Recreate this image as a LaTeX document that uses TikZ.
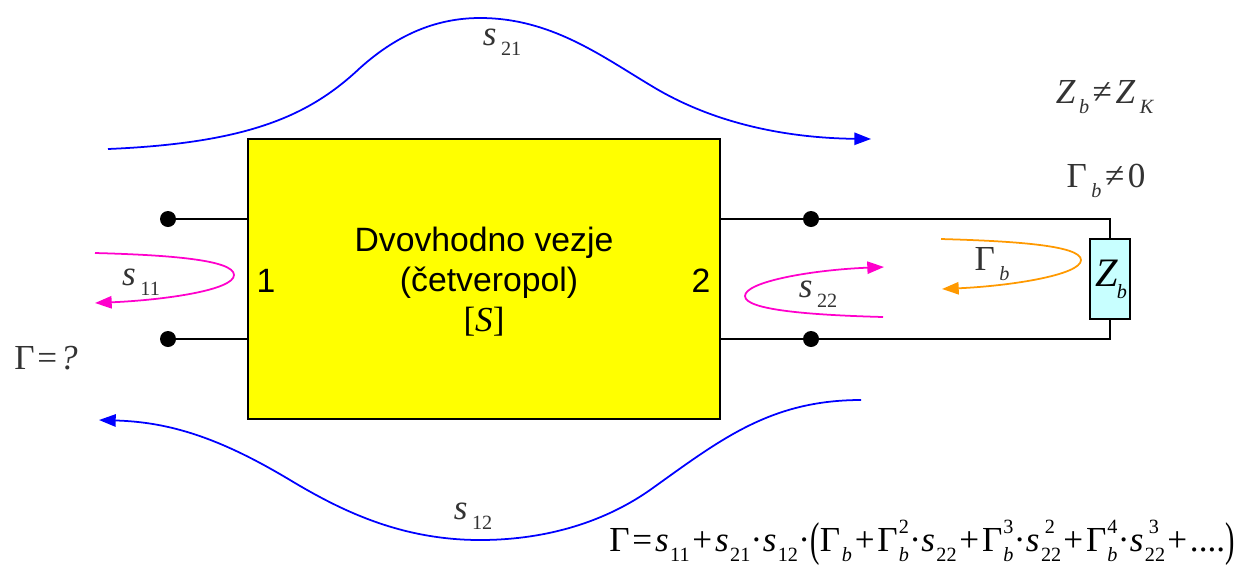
\documentclass[tikz,border=0pt]{standalone}
\usepackage{xcolor}
\usepackage{graphicx}
\usepackage{fontspec}
\setmainfont{Liberation Serif}
\newfontfamily\labelsans{Liberation Sans}
\usepackage{tikz}
\usetikzlibrary{
    arrows.meta,
    positioning,
    calc
}
\definecolor{flowblue}{RGB}{0,0,255}
\definecolor{flowpink}{RGB}{255,0,204}
\definecolor{floworange}{RGB}{255,153,0}
\definecolor{loadcyan}{RGB}{200,255,255}
\definecolor{blockyellow}{RGB}{255,255,0}
\newcommand{\lowidx}[1]{\raisebox{-0.3em}{\fontsize{11.5}{13}\selectfont #1}}
\newcommand{\topidx}[1]{\raisebox{0.5em}{\fontsize{11.5}{13}\selectfont #1}}
\newcommand{\symS}[1]{\textit{s}\kern2.6pt\lowidx{#1}}
\newcommand{\symG}{Γ\kern2.6pt\lowidx{\textit{b}}}
\newcommand{\symT}[1]{\textit{s}\kern0.8pt\lowidx{#1}}
\newcommand{\symH}{Γ\kern1pt\lowidx{\textit{b}}}
\newcommand{\symGp}[1]{Γ\kern0.6pt\rlap{\lowidx{\textit{b}}}\topidx{#1}}
\newcommand{\symSp}[1]{\textit{s}\kern0.8pt\rlap{\lowidx{22}}\kern2.2pt\topidx{#1}\kern3.2pt}
\newcommand{\opgap}[1]{\kern1.6pt#1\kern1.6pt}
\newcommand{\dotgap}{\kern0.2pt·\kern0.2pt}
\newcommand{\tallfence}[1]{\raisebox{-2.5pt}{\scalebox{0.8}[1.35]{#1}}}
\tikzset{
    twoport/.style={
        draw=black,
        line width=0.8pt,
        fill=blockyellow,
        minimum width=472*0.02cm,
        minimum height=280*0.02cm,
        inner sep=0pt
    }
}
\tikzset{
    terminal/.style={
        circle,
        fill=black,
        inner sep=0pt,
        minimum size=16*0.02cm
    }
}
\tikzset{
    loadbox/.style={
        draw=black,
        line width=0.8pt,
        fill=loadcyan,
        minimum width=40*0.02cm,
        minimum height=80*0.02cm,
        inner sep=0pt
    }
}
\tikzset{
    wire/.style={
        draw=black,
        line width=0.8pt
    }
}
\tikzset{
    flow/.style={
        line width=1pt,
        -{Triangle[length=9.5pt,width=7pt]}
    }
}
\tikzset{
    symlabel/.style={
        font=\fontsize{20}{22}\selectfont,
        text=black!80,
        inner sep=0pt
    }
}
\tikzset{
    portlabel/.style={
        font=\fontsize{19.2}{21}\selectfont\labelsans,
        inner sep=0pt
    }
}
\begin{document}
\begin{tikzpicture}[
    x=0.02cm,
    y=-0.02cm
]
\useasboundingbox (0,0) rectangle (1239,566);

% =========================================================
% Two-port and terminals
% =========================================================

\node[twoport] (block) at (484,279) {};
\node[terminal] (inA) at (168,219) {};
\node[terminal] (inB) at (168,339) {};
\node[terminal] (outA) at (811,219) {};
\node[terminal] (outB) at (811,339) {};
\node[loadbox] (load) at (1110,279) {};

\draw[wire] (inA) -- (inA-|block.west);
\draw[wire] (inB) -- (inB-|block.west);
\draw[wire] (outA-|block.east) -- (outA) -- (outA-|load.north) -- (load.north);
\draw[wire] (outB-|block.east) -- (outB) -- (outB-|load.south) -- (load.south);

\node[portlabel] (title) at (484,243) {Dvovhodno vezje};
\node[portlabel] (subtitle) at (489,283) {(četveropol)};
\node[symlabel, text=black] (matrix) at (484,322) {[\textit{S}]};
\node[portlabel] (portA) at (266,281) {1};
\node[portlabel] (portB) at (701,281) {2};
\node[symlabel, text=black, font=\fontsize{23}{25}\selectfont] (loadname) at (1111,279) {\textit{Z}\kern-0.5pt\lowidx{\textit{b}}};

% =========================================================
% Flows
% =========================================================

\coordinate (s21a) at (108,149);
\coordinate (s21b) at (871,139);
\coordinate (s12a) at (861,400);
\coordinate (s12b) at (99,420);
\coordinate (s11a) at (95,253);
\coordinate (s11b) at (95,303);
\coordinate (s22a) at (883,317);
\coordinate (s22b) at (884,267);
\coordinate (gba) at (941,239);
\coordinate (gbb) at (942,289);

\draw[flow, flowblue] (s21a) .. controls (250,143) and (310,115) .. (360,68)
    .. controls (400,32) and (440,18) .. (480,18)
    .. controls (550,18) and (600,55) .. (650,85)
    .. controls (715,125) and (790,138) .. (s21b);
\draw[flow, flowblue] (s12a) .. controls (770,400) and (720,440) .. (650,490)
    .. controls (600,525) and (540,540) .. (480,540)
    .. controls (400,540) and (340,510) .. (290,480)
    .. controls (220,438) and (170,422) .. (s12b);
\draw[flow, flowpink] (s11a) .. controls (170,255) and (234,260) .. (234,275)
    .. controls (234,290) and (165,300) .. (s11b);
\draw[flow, flowpink] (s22a) .. controls (810,315) and (745,310) .. (745,296)
    .. controls (745,282) and (810,270) .. (s22b);
\draw[flow, floworange] (gba) .. controls (1010,241) and (1081,245) .. (1081,260)
    .. controls (1081,275) and (1010,286) .. (gbb);

% =========================================================
% Labels
% =========================================================

\node[symlabel] (s21) at (502,42) {\symS{21}};
\node[symlabel] (s12) at (473,516) {\symS{12}};
\node[symlabel] (s11) at (141,282) {\symS{11}};
\node[symlabel] (s22) at (818,294) {\symS{22}};
\node[symlabel] (gb) at (992,264) {\symG};
\node[symlabel] (gq) at (46,358) {Γ\opgap{=}\textit{?}};
\node[symlabel] (zneq) at (1105,97) {\textit{Z}\kern2pt\lowidx{\textit{b}}\kern2pt≠\kern2pt\textit{Z}\kern2.6pt\lowidx{\textit{K}}};
\node[symlabel] (gneq) at (1106,181) {\symG\kern2pt≠\kern2pt0};

\node[symlabel, text=black, anchor=west] (series) at (609,543) {Γ\opgap{=}\symT{11}\opgap{+}\symT{21}\dotgap\symT{12}\dotgap\tallfence{(}\symH\opgap{+}\symGp{2}\dotgap\symT{22}\opgap{+}\symGp{3}\dotgap\symSp{2}\opgap{+}\symGp{4}\dotgap\symSp{3}\opgap{+}....\tallfence{)}};

\end{tikzpicture}
\end{document}
